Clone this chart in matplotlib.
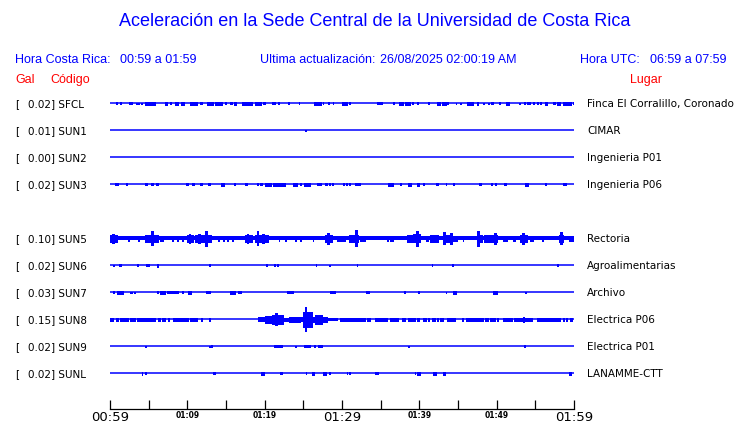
import matplotlib
matplotlib.use('Agg')
import matplotlib.pyplot as plt

# ---------------- data ----------------
codes = ['SFCL', 'SUN1', 'SUN2', 'SUN3', 'SUN5', 'SUN6', 'SUN7', 'SUN8', 'SUN9', 'SUNL']
gal = ['0.02', '0.01', '0.00', '0.02', '0.10', '0.02', '0.03', '0.15', '0.02', '0.02']
places = ['Finca El Corralillo, Coronado', 'CIMAR', 'Ingenieria P01', 'Ingenieria P06',
          'Rectoria', 'Agroalimentarias', 'Archivo', 'Electrica P06', 'Electrica P01',
          'LANAMME-CTT']
window_min = [0, 60]
tick_minutes = [0, 10, 20, 30, 40, 50, 60]
tick_labels = ['00:59', '01:09', '01:19', '01:29', '01:39', '01:49', '01:59']
minor_minutes = [5, 15, 25, 35, 45, 55]

# background noise level (Gal) for each trace
noise_floor = [0.0, 0.0, 0.0, 0.0, 0.026, 0.0, 0.0, 0.0, 0.0, 0.0]

# events: (start minute, end minute, half amplitude in Gal)
sfcl_events = [(0.78, 0.9, .013), (1.29, 1.4, .013), (2.46, 2.6, .01), (2.72, 2.85, .01), (3.36, 3.45, .008),
               (3.62, 3.7, .008), (4.01, 4.1, .008), (4.5, 5.8, .02), (7.1, 7.4, .018), (7.8, 7.9, .013),
               (8.4, 8.8, .02), (9.2, 9.6, .018), (10.3, 11.2, .02), (11.6, 11.9, .013), (12.5, 13.3, .02),
               (13.6, 14.5, .02), (14.9, 15.0, .01), (15.5, 15.8, .013), (16.0, 16.3, .016), (17.1, 17.7, .02),
               (17.7, 18.4, .02), (18.8, 19.5, .02), (19.8, 19.9, .01), (20.0, 20.1, .01), (20.9, 21.3, .013),
               (21.7, 21.8, .01), (23.0, 23.1, .01), (24.4, 24.5, .01), (26.4, 27.3, .02), (27.5, 27.6, .013),
               (28.2, 28.3, .01), (28.8, 28.9, .013), (30.0, 30.6, .016), (30.9, 31.0, .01), (34.5, 35.2, .013),
               (36.6, 36.7, .01), (37.4, 37.9, .018), (38.2, 38.8, .02), (39.1, 39.2, .013), (39.7, 39.8, .01),
               (41.1, 41.2, .013), (42.3, 42.7, .018), (42.9, 43.5, .02), (43.6, 43.7, .013), (44.7, 44.8, .008),
               (45.3, 45.4, .008), (46.2, 46.9, .02), (47.5, 47.6, .016), (48.2, 48.3, .008), (48.9, 49.0, .008),
               (49.3, 49.5, .01), (50.3, 50.4, .013), (51.2, 51.6, .02), (52.9, 53.0, .008), (53.5, 53.6, .013),
               (53.9, 54.0, .013), (54.2, 54.3, .013), (54.7, 54.8, .013), (55.2, 55.3, .01), (55.6, 55.7, .01),
               (56.2, 56.5, .016), (57.3, 57.6, .013), (57.8, 58.2, .016), (58.6, 59.6, .018), (59.9, 60.0, .013)]
sun1_events = [(25.2, 25.3, .008)]
sun2_events = []
sun3_events = [(0.65, 1.0, .014), (2.07, 2.17, .012), (4.5, 4.8, .014), (5.3, 5.6, .014), (6.0, 6.2, .014),
               (9.8, 10.1, .014), (10.6, 10.9, .014), (11.6, 11.9, .014), (12.7, 12.9, .014), (14.4, 14.7, .016),
               (16.0, 16.1, .01), (17.5, 17.7, .014), (19.0, 19.1, .012), (19.4, 19.7, .014), (20.0, 20.8, .016),
               (21.1, 22.6, .016), (23.7, 24.2, .016), (24.6, 24.7, .012), (25.1, 25.9, .016), (26.8, 27.3, .014),
               (27.8, 28.1, .014), (28.3, 28.4, .012), (28.7, 28.8, .012), (30.1, 30.2, .012), (30.5, 30.6, .012),
               (30.9, 31.0, .012), (31.7, 31.8, .01), (31.9, 32.3, .014), (35.9, 36.6, .016), (37.5, 37.6, .01),
               (38.5, 38.9, .016), (39.7, 40.0, .016), (40.5, 40.6, .01), (42.2, 42.4, .014), (43.4, 43.5, .012),
               (44.4, 44.5, .012), (47.7, 48.0, .014), (49.3, 49.4, .012), (49.8, 49.9, .012), (50.9, 51.2, .014),
               (53.6, 54.1, .016), (56.3, 56.4, .012), (58.6, 59.0, .014)]
sun5_events = [(0.0, 0.9, .045), (0.2, 0.5, .06), (2.3, 2.4, .035), (3.6, 3.7, .035), (4.5, 4.9, .04),
               (5.0, 6.2, .045), (5.3, 5.5, .085), (6.5, 6.8, .035), (8.0, 8.1, .03), (8.7, 8.8, .03),
               (9.3, 9.4, .03), (10.0, 10.7, .04), (10.2, 10.4, .055), (11.0, 12.0, .045), (11.4, 11.6, .055),
               (12.2, 13.0, .045), (12.3, 12.5, .09), (14.0, 14.1, .03), (14.6, 14.7, .03), (15.1, 15.2, .03),
               (15.8, 15.9, .03), (17.5, 18.4, .04), (17.7, 17.9, .055), (18.8, 20.4, .045), (19.0, 19.2, .085),
               (19.7, 19.9, .055), (21.8, 21.9, .03), (22.6, 22.7, .03), (23.9, 24.0, .03), (24.6, 24.7, .03),
               (26.2, 26.3, .035), (27.8, 28.7, .04), (28.1, 28.3, .07), (29.3, 30.4, .035), (30.9, 31.3, .04),
               (31.4, 32.1, .045), (31.7, 31.9, .1), (32.3, 33.0, .035), (35.8, 35.9, .03), (36.2, 36.3, .03),
               (36.5, 36.6, .03), (38.4, 39.1, .045), (39.2, 40.1, .05), (39.6, 39.8, .09), (40.9, 41.1, .035),
               (41.4, 42.4, .045), (43.1, 44.2, .045), (43.1, 43.3, .075), (44.0, 44.2, .07), (44.4, 44.9, .035),
               (45.6, 45.7, .03), (47.5, 48.1, .045), (47.5, 47.7, .09), (48.3, 50.1, .045), (49.7, 49.9, .07),
               (50.8, 51.3, .035), (52.1, 52.4, .035), (53.0, 53.9, .045), (53.3, 53.5, .07), (54.3, 54.7, .035),
               (55.9, 56.0, .035), (58.0, 58.6, .045), (58.2, 58.4, .075), (59.3, 59.9, .035)]
sun6_events = [(0.4, 0.5, .01), (1.2, 1.4, .014), (3.5, 3.6, .012), (4.7, 4.8, .012), (4.9, 5.0, .012),
               (6.1, 6.2, .02), (12.8, 12.9, .012), (20.2, 20.3, .014), (21.2, 21.3, .012), (21.6, 21.7, .012),
               (26.6, 26.7, .012), (28.3, 28.4, .01), (31.9, 32.0, .012), (41.6, 41.7, .014), (44.2, 44.3, .012),
               (57.8, 57.9, .014)]
sun7_events = [(0.4, 0.5, .012), (0.9, 1.7, .016), (2.6, 2.7, .01), (2.8, 2.9, .01), (3.1, 3.2, .01),
               (6.1, 6.2, .014), (6.5, 7.1, .02), (7.4, 8.8, .014), (9.3, 9.4, .012), (10.1, 10.5, .02),
               (12.4, 12.9, .014), (15.5, 16.2, .018), (16.6, 16.7, .012), (16.8, 16.9, .012), (22.9, 23.7, .014),
               (28.5, 29.1, .012), (33.1, 33.2, .012), (33.4, 33.5, .012), (38.0, 38.1, .012), (39.8, 39.9, .014),
               (43.4, 43.5, .008), (44.4, 44.7, .016), (49.5, 50.0, .016), (53.7, 53.8, .008)]
sun8_events = [(0.0, 0.4, .018), (0.8, 1.0, .018), (1.3, 1.7, .018), (1.8, 2.3, .018), (2.6, 3.2, .018),
               (3.5, 5.8, .018), (6.2, 6.5, .018), (6.7, 7.1, .018), (7.5, 7.6, .018), (8.1, 10.1, .018),
               (10.3, 11.2, .018), (11.8, 11.9, .022), (12.8, 12.9, .022),
               (19.2, 20.0, .025), (20.0, 20.9, .04), (20.9, 22.4, .06), (21.3, 21.6, .075), (22.4, 23.1, .02),
               (23.1, 24.6, .035), (24.6, 25.0, .025), (25.0, 26.1, .09), (25.2, 25.4, .15), (26.1, 26.5, .035),
               (26.5, 27.4, .06), (27.4, 28.0, .03), (28.0, 29.3, .014),
               (29.7, 33.0, .018), (33.2, 33.6, .018), (34.3, 35.8, .018), (36.2, 37.2, .018), (37.8, 38.2, .018),
               (38.5, 39.4, .018), (39.7, 40.0, .018), (40.5, 40.6, .018), (40.7, 40.8, .018), (41.1, 41.2, .018),
               (41.6, 42.0, .018), (42.3, 42.4, .018), (42.7, 43.1, .018), (43.6, 44.6, .018), (45.5, 45.6, .018),
               (46.0, 48.2, .018), (48.5, 48.9, .018), (49.1, 49.8, .018), (50.0, 50.2, .018), (50.8, 52.0, .018),
               (52.3, 53.3, .018), (53.4, 53.5, .028), (53.7, 54.6, .018), (55.2, 58.2, .018), (58.6, 58.7, .018),
               (59.0, 59.1, .018), (59.5, 59.6, .018), (59.7, 59.8, .018)]
sun9_events = [(4.5, 4.6, .01), (12.8, 12.9, .01), (13.1, 13.2, .012), (21.2, 22.2, .014), (23.9, 24.0, .008),
               (25.1, 25.9, .014), (26.4, 26.5, .012), (26.9, 27.4, .014), (38.5, 38.6, .01), (53.5, 53.6, .014)]
sunl_events = [(4.1, 4.2, .016), (4.5, 4.6, .012), (13.3, 13.6, .012), (19.5, 19.9, .016), (22.0, 22.2, .014),
               (25.3, 25.4, .012), (26.1, 26.4, .016), (27.5, 27.9, .016), (28.3, 28.4, .012), (30.6, 30.7, .012),
               (30.9, 31.0, .012), (34.3, 34.4, .012), (34.5, 34.6, .012), (39.4, 39.5, .012), (39.7, 40.1, .022),
               (41.8, 42.2, .016), (43.1, 43.3, .02), (59.4, 59.6, .016)]

station_events = [sfcl_events, sun1_events, sun2_events, sun3_events, sun5_events,
                  sun6_events, sun7_events, sun8_events, sun9_events, sunl_events]

# ---------------- layout ----------------
W, H = 740, 423
slots = [0, 1, 2, 3, 5, 6, 7, 8, 9, 10]
row0_px, row_step_px = 103.3, 27.0
ax_left_px, ax_right_px, ax_bottom_px, ax_top_px = 110, 574, 409, 90
px_per_gal = 80.0

BLUE = '#0000ff'
RED = '#ff0000'
HEAD_FONT = ['Liberation Sans', 'DejaVu Sans']
BODY_FONT = ['DejaVu Sans']


def fx(px):
    return px / W


def fy(py):
    return 1 - py / H


fig = plt.figure(figsize=(W / 100, H / 100), dpi=100)
fig.patch.set_facecolor('white')

ax = fig.add_axes([fx(ax_left_px), fy(ax_bottom_px),
                   fx(ax_right_px) - fx(ax_left_px), fy(ax_top_px) - fy(ax_bottom_px)])
ax.set_xlim(window_min[0], window_min[1])
ax.set_ylim(-(ax_bottom_px - row0_px) / row_step_px, (row0_px - ax_top_px) / row_step_px)
ax.patch.set_alpha(0)
for s in ['left', 'right', 'top']:
    ax.spines[s].set_visible(False)
ax.spines['bottom'].set_linewidth(0.9)
ax.set_yticks([])

gain = px_per_gal / row_step_px
for slot, floor, events in zip(slots, noise_floor, station_events):
    y = -slot
    ax.hlines(y, window_min[0], window_min[1], color=BLUE, lw=1.1)
    if floor > 0:
        ax.bar(window_min[0], 2 * floor * gain, width=window_min[1] - window_min[0],
               bottom=y - floor * gain, align='edge', color=BLUE, lw=0, antialiased=False)
    for t0, t1, a in events:
        ax.bar(t0, 2 * a * gain, width=t1 - t0, bottom=y - a * gain, align='edge',
               color=BLUE, edgecolor=BLUE, lw=0.6, antialiased=False)

ax.set_xticks(tick_minutes)
ax.set_xticks(minor_minutes, minor=True)
ax.set_xticklabels(tick_labels)
ax.tick_params(axis='x', which='both', direction='in', length=6.5, width=0.9, color='black', pad=1.5)
for i, lab in enumerate(ax.get_xticklabels()):
    lab.set_family(BODY_FONT)
    if i in (0, 3, len(tick_labels) - 1):
        lab.set_fontsize(9.5)
    else:
        lab.set_fontsize(5.5)
        lab.set_fontweight('bold')

# ---------------- texts ----------------
fig.text(fx(375), fy(22), 'Aceleración en la Sede Central de la Universidad de Costa Rica',
         ha='center', va='center', color=BLUE, fontsize=13, family=HEAD_FONT)

hdr_y = fy(60)
fig.text(fx(15), hdr_y, 'Hora Costa Rica:', color=BLUE, fontsize=9, family=HEAD_FONT, va='center')
fig.text(fx(120.5), hdr_y, '00:59 a 01:59', color=BLUE, fontsize=9, family=HEAD_FONT, va='center')
fig.text(fx(260), hdr_y, 'Ultima actualización:', color=BLUE, fontsize=9, family=HEAD_FONT, va='center')
fig.text(fx(380), hdr_y, '26/08/2025 02:00:19 AM', color=BLUE, fontsize=9, family=HEAD_FONT, va='center')
fig.text(fx(580.5), hdr_y, 'Hora UTC:', color=BLUE, fontsize=9, family=HEAD_FONT, va='center')
fig.text(fx(650.5), hdr_y, '06:59 a 07:59', color=BLUE, fontsize=9, family=HEAD_FONT, va='center')

sub_y = fy(80)
fig.text(fx(15), sub_y, 'Gal', color=RED, fontsize=9, family=HEAD_FONT, va='center')
fig.text(fx(50), sub_y, 'Código', color=RED, fontsize=9, family=HEAD_FONT, va='center')
fig.text(fx(630), sub_y, 'Lugar', color=RED, fontsize=9, family=HEAD_FONT, va='center')

for slot, code, g, place in zip(slots, codes, gal, places):
    ypx = row0_px + slot * row_step_px + 3.9
    fig.text(fx(15), fy(ypx), '[', fontsize=7.5, family=BODY_FONT, va='baseline')
    fig.text(fx(27.5), fy(ypx), f'{g}] {code}', fontsize=7.5, family=BODY_FONT, va='baseline')
    fig.text(fx(587.3), fy(ypx), place, fontsize=7.5, family=BODY_FONT, va='baseline')

fig.savefig('out.png', dpi=100, facecolor='white')
